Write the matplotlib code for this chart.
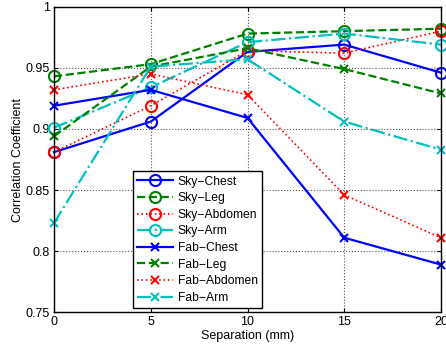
import matplotlib
matplotlib.use("Agg")
import matplotlib.pyplot as plt

separation = [0, 5, 10, 15, 20]
sky_chest = [0.881, 0.906, 0.963, 0.969, 0.946]
sky_leg = [0.943, 0.953, 0.978, 0.980, 0.982]
sky_abdomen = [0.881, 0.919, 0.964, 0.962, 0.980]
sky_arm = [0.901, 0.934, 0.971, 0.978, 0.969]
fab_chest = [0.919, 0.932, 0.909, 0.811, 0.789]
fab_leg = [0.894, 0.951, 0.966, 0.949, 0.929]
fab_abdomen = [0.932, 0.945, 0.928, 0.846, 0.811]
fab_arm = [0.823, 0.951, 0.957, 0.906, 0.883]

labels = ["Sky\u2212Chest", "Sky\u2212Leg", "Sky\u2212Abdomen", "Sky\u2212Arm",
          "Fab\u2212Chest", "Fab\u2212Leg", "Fab\u2212Abdomen", "Fab\u2212Arm"]
yticks = [0.75, 0.8, 0.85, 0.9, 0.95, 1.0]
ytick_labels = ["0.75", "0.8", "0.85", "0.9", "0.95", "1"]
xticks = [0, 5, 10, 15, 20]

blue = (0, 0, 1)
green = (0, 0.5, 0)
red = (1, 0, 0)
cyan = (0, 0.75, 0.75)

plt.rcParams['font.family'] = ['Liberation Sans', 'DejaVu Sans']

fig = plt.figure(figsize=(4.46, 3.49), dpi=100)
ax = fig.add_axes([54/446, 1 - 312.3/349, (441 - 54)/446, (312.3 - 6.7)/349])

series = [
    (sky_chest, blue, '-', 'o'),
    (sky_leg, green, '--', 'o'),
    (sky_abdomen, red, ':', 'o'),
    (sky_arm, cyan, '-.', 'o'),
    (fab_chest, blue, '-', 'x'),
    (fab_leg, green, '--', 'x'),
    (fab_abdomen, red, ':', 'x'),
    (fab_arm, cyan, '-.', 'x'),
]
for (vals, col, ls, mk), lab in zip(series, labels):
    lw = 1.2 if ls == ':' else 1.6
    if mk == 'o':
        ax.plot(separation, vals, color=col, linestyle=ls, marker='o', markersize=8,
                markerfacecolor='none', markeredgewidth=1.5, linewidth=lw, label=lab,
                clip_on=False)
    else:
        ax.plot(separation, vals, color=col, linestyle=ls, marker='x', markersize=6,
                markeredgewidth=1.5, linewidth=lw, label=lab, clip_on=False)

ax.set_xlim(0, 20)
ax.set_ylim(0.75, 1.0)
ax.set_xticks(xticks)
ax.set_xticklabels([str(x) for x in xticks])
ax.set_yticks(yticks)
ax.set_yticklabels(ytick_labels)
ax.tick_params(direction='in', top=True, right=True, labelsize=9, length=3, pad=3)
ax.grid(True, linestyle=':', color='#555555', linewidth=0.8)
for s in ax.spines.values():
    s.set_linewidth(1.0)
ax.set_xlabel("Separation (mm)", fontsize=9, labelpad=1)
ax.set_ylabel("Correlation Coefficient", fontsize=9, labelpad=1)

leg = ax.legend(loc='lower left', bbox_to_anchor=((133 - 54)/387, (312.3 - 308)/305.6),
                fontsize=8.7, fancybox=False, edgecolor='black', framealpha=1,
                handlelength=3.0, borderpad=0.35, labelspacing=0.38, handletextpad=0.35,
                borderaxespad=0)
leg.get_frame().set_linewidth(1.0)

fig.savefig("out.png", dpi=100)
